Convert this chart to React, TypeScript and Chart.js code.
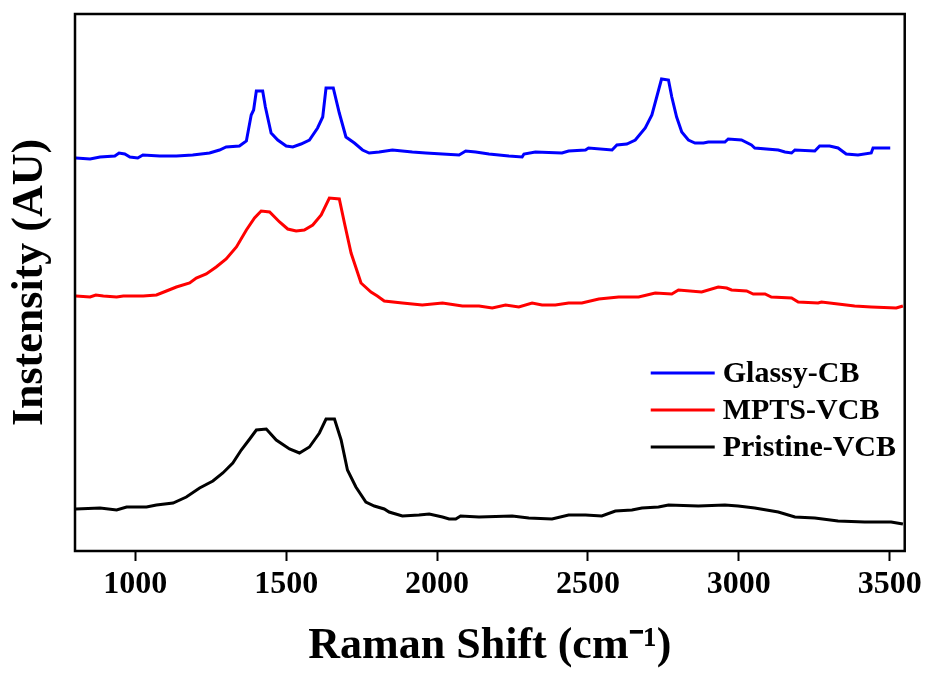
import React, { useEffect, useRef } from 'react';
import { Chart, registerables } from 'chart.js';

Chart.register(...registerables);

const FONT = "'Liberation Serif', 'Times New Roman', serif";

const xTickValues = [1000, 1500, 2000, 2500, 3000, 3500];
const seriesLabels = ['Glassy-CB', 'MPTS-VCB', 'Pristine-VCB'];
const seriesColors = ['#0000ff', '#ff0000', '#000000'];

const glassyX = [803,850,883,932,946,965,982,1008,1025,1081,1136,1190,1246,1279,1301,1345,1368,1384,1392,1401,1422,1431,1450,1472,1500,1522,1549,1577,1604,1621,1632,1656,1676,1698,1726,1753,1775,1808,1852,1918,1963,2018,2073,2095,2128,2172,2238,2282,2288,2326,2414,2436,2492,2502,2580,2596,2629,2657,2690,2712,2728,2744,2767,2778,2794,2811,2833,2855,2883,2899,2954,2965,3009,3042,3053,3131,3153,3175,3186,3252,3268,3301,3329,3356,3395,3439,3445,3502];
const glassyY = [393,392,394,395,398,397,394,393,396,395,395,396,398,401,404,405,410,436,441,460,460,444,418,411,405,404,407,411,423,434,463,463,438,414,408,401,398,399,401,399,398,397,396,400,399,397,395,394,397,399,398,400,401,403,401,406,407,411,423,436,454,472,471,454,434,419,411,408,408,409,409,412,411,406,403,401,399,398,401,400,405,405,403,397,396,398,403,403];

const mptsX = [803,850,869,894,938,960,1026,1070,1103,1136,1180,1202,1235,1268,1301,1335,1368,1395,1417,1445,1478,1505,1533,1560,1588,1616,1643,1676,1693,1715,1748,1781,1802,1825,1885,1951,2018,2084,2139,2183,2227,2271,2315,2348,2392,2436,2480,2536,2602,2668,2723,2778,2800,2877,2932,2960,2976,3026,3048,3087,3108,3175,3197,3263,3274,3329,3384,3439,3522,3544];
const mptsY = [255,254,256,255,254,255,255,256,260,264,268,273,277,284,292,304,321,333,340,339,329,322,320,321,326,336,353,352,328,298,268,259,255,250,248,246,248,245,245,243,246,244,248,246,246,248,248,252,254,254,258,257,261,259,264,263,261,260,257,257,254,253,249,248,249,247,245,244,243,245];

const pristineX = [803,883,938,971,1037,1070,1125,1169,1213,1257,1290,1323,1351,1379,1401,1434,1467,1511,1544,1577,1610,1632,1660,1682,1703,1731,1764,1792,1825,1841,1885,1940,1974,2018,2040,2062,2078,2139,2249,2304,2381,2436,2492,2546,2591,2646,2679,2734,2767,2866,2954,2998,3053,3131,3186,3252,3329,3417,3505,3544];
const pristineY = [42,43,41,44,44,46,48,54,63,70,78,88,101,112,121,122,111,102,98,104,118,132,132,111,81,64,49,45,42,39,35,36,37,34,32,32,35,34,35,33,32,36,36,35,40,41,43,44,46,45,46,45,43,39,34,33,30,29,29,27];

const X_MIN = 800;
const X_MAX = 3550;
const Y_MIN = 0;
const Y_MAX = 537;

const toPoints = (xs: number[], ys: number[]) => xs.map((x, i) => ({ x, y: ys[i] }));

const framePlugin = {
  id: 'frame',
  afterDraw(chart: any) {
    const { ctx, chartArea } = chart;
    ctx.save();
    ctx.strokeStyle = '#000';
    ctx.lineWidth = 2.5;
    ctx.strokeRect(chartArea.left, chartArea.top, chartArea.right - chartArea.left, chartArea.bottom - chartArea.top);
    ctx.restore();
  },
};

const legendPlugin = {
  id: 'insideLegend',
  afterDraw(chart: any) {
    const { ctx, chartArea } = chart;
    const x0 = chartArea.right - 254;
    const lineLen = 64;
    const y0 = chartArea.top + 359;
    const rowH = 37;
    ctx.save();
    ctx.font = `bold 30px ${FONT}`;
    ctx.textBaseline = 'middle';
    ctx.textAlign = 'left';
    chart.data.datasets.forEach((ds: any, i: number) => {
      const y = y0 + i * rowH;
      ctx.strokeStyle = ds.borderColor;
      ctx.lineWidth = 3;
      ctx.beginPath();
      ctx.moveTo(x0, y);
      ctx.lineTo(x0 + lineLen, y);
      ctx.stroke();
      ctx.fillStyle = '#000';
      ctx.fillText(ds.label, x0 + lineLen + 8, y + 1);
    });
    ctx.restore();
  },
};

export default function App() {
  const canvasRef = useRef<HTMLCanvasElement | null>(null);

  useEffect(() => {
    document.body.style.margin = '0';
    const canvas = canvasRef.current;
    if (!canvas) return;
    const series = [
      toPoints(glassyX, glassyY),
      toPoints(mptsX, mptsY),
      toPoints(pristineX, pristineY),
    ];
    const chart = new Chart(canvas, {
      type: 'line',
      data: {
        datasets: series.map((pts, i) => ({
          label: seriesLabels[i],
          data: pts,
          borderColor: seriesColors[i],
          backgroundColor: seriesColors[i],
          borderWidth: 3,
          pointRadius: 0,
          tension: 0,
          fill: false,
        })),
      },
      options: {
        animation: false,
        responsive: true,
        maintainAspectRatio: false,
        layout: { padding: { top: 14, right: 20, left: 0, bottom: 0 } },
        plugins: {
          legend: { display: false },
          tooltip: { enabled: false },
        },
        scales: {
          x: {
            type: 'linear',
            min: X_MIN,
            max: X_MAX,
            afterBuildTicks: (scale: any) => {
              scale.ticks = xTickValues.map((v) => ({ value: v }));
            },
            afterFit: (scale: any) => {
              scale.height = 122;
            },
            border: { display: false },
            grid: {
              display: true,
              drawOnChartArea: false,
              drawTicks: true,
              tickLength: 10,
              tickWidth: 2,
              tickColor: '#000',
            },
            ticks: {
              color: '#000',
              padding: 5,
              maxRotation: 0,
              font: { family: FONT, size: 32, weight: 'bold' },
              callback: (v: any) => String(v),
            },
            title: {
              display: true,
              text: 'Raman Shift (cm⁻¹)',
              color: '#000',
              padding: { top: 0, bottom: 0 },
              font: { family: FONT, size: 44, weight: 'bold', lineHeight: 1.2 },
            },
          },
          y: {
            type: 'linear',
            min: Y_MIN,
            max: Y_MAX,
            afterFit: (scale: any) => {
              scale.width = 75;
            },
            border: { display: false },
            grid: { display: false },
            ticks: { display: false },
            title: {
              display: true,
              text: 'Instensity (AU)',
              color: '#000',
              padding: { top: 4, bottom: 0 },
              font: { family: FONT, size: 44, weight: 'bold', lineHeight: 1.2 },
            },
          },
        },
      },
      plugins: [framePlugin, legendPlugin],
    });
    return () => chart.destroy();
  }, []);

  return (
    <div style={{ width: 927, height: 673, position: 'relative' }}>
      <canvas ref={canvasRef} style={{ display: 'block' }} />
    </div>
  );
}
